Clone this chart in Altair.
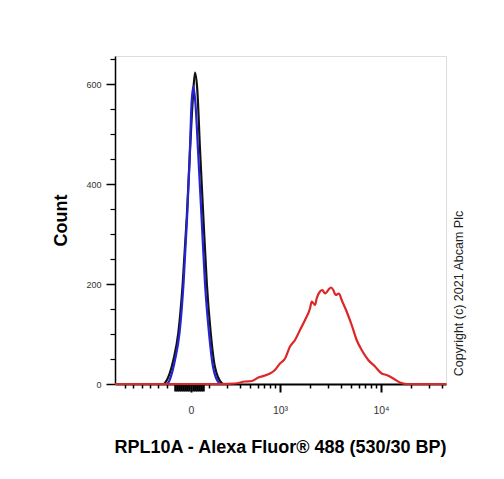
import math
import altair as alt
import pandas as pd

# x positions are display units (decades on a logicle-like axis); y = count
black_x = [1.366, 1.850, 1.861, 1.944, 1.993, 2.037, 2.077, 2.109, 2.136, 2.158, 2.181,
           2.208, 2.241, 2.275, 2.314, 2.356, 2.423, 2.440]
black_y = [0, 0, 2, 48, 102, 202, 334, 468, 568, 623, 588, 468, 334, 202, 102, 34, 2, 0]

blue_x = [1.366, 1.880, 1.891, 1.960, 2.005, 2.045, 2.080, 2.105, 2.124, 2.142, 2.163,
          2.188, 2.223, 2.257, 2.297, 2.337, 2.396, 2.410]
blue_y = [0, 0, 2, 48, 102, 202, 334, 450, 560, 595, 560, 468, 334, 202, 102, 34, 2, 0]

red_x = [1.366, 2.423, 2.554, 2.653, 2.720, 2.785, 2.851, 2.901, 2.950, 3.000, 3.050,
         3.099, 3.149, 3.198, 3.248, 3.297, 3.314, 3.347, 3.363, 3.396, 3.419, 3.446,
         3.478, 3.505, 3.528, 3.551, 3.584, 3.611, 3.660, 3.710, 3.759, 3.809, 3.874,
         3.941, 4.007, 4.056, 4.122, 4.188, 4.254, 4.644]
red_y = [0, 0, 1, 5, 6, 13, 17, 21, 28, 41, 51, 75, 88, 108, 128, 151, 165, 158, 171,
         185, 188, 181, 188, 193, 188, 178, 181, 168, 145, 118, 88, 68, 48, 35, 21, 18,
         11, 3, 0, 0]

x_domain = [1.366, 4.644]
y_domain = [0, 656]

x_major_vals = [2.119, 3.0, 4.0]
x_major_labels = ["0", "10³", "10⁴"]
x_neg_minor = [1.465, 1.548, 1.631, 1.713, 1.795, 1.878]
x_zero_cluster = [1.960, 1.980, 2.000, 2.020, 2.040, 2.060, 2.080, 2.100, 2.140,
                  2.160, 2.180, 2.200, 2.220, 2.238]
x_log_minor = [d + math.log10(k) for d in (2, 3, 4) for k in range(2, 10)
               if d + math.log10(k) < 4.64 and d + math.log10(k) > 2.25]

y_major = [0, 200, 400, 600]
y_minor = [50, 100, 150, 250, 300, 350, 450, 500, 550, 650]

x_title = "RPL10A - Alexa Fluor® 488 (530/30 BP)"
y_title = "Count"
copyright_text = "Copyright (c) 2021 Abcam Plc"

FONT = "Liberation Sans"


def frame(xs, ys):
    return pd.DataFrame({"pos": xs, "count": ys})


xs = alt.Scale(domain=x_domain, nice=False, zero=False)
ys = alt.Scale(domain=y_domain, nice=False, zero=False)

label_expr = " : ".join(
    f"abs(datum.value - {v}) < 0.01 ? '{l}'" for v, l in zip(x_major_vals, x_major_labels)
) + " : ''"

black = alt.Chart(frame(black_x, black_y)).mark_line(
    color="#111111", strokeWidth=2.2, interpolate="monotone"
).encode(
    x=alt.X("pos:Q", scale=xs, axis=alt.Axis(
        orient="bottom", values=x_major_vals, labelExpr=label_expr, grid=False,
        domain=True, domainColor="black", domainWidth=2,
        tickSize=8, tickWidth=2, tickColor="black",
        labelFont=FONT, labelFontSize=10.5, labelColor="#333333", labelPadding=13,
        title=x_title, titleFont=FONT, titleFontSize=18, titleFontWeight="bold",
        titleColor="black", titleX=165, titleY=68, titleBaseline="alphabetic",
        titleAlign="center")),
    y=alt.Y("count:Q", scale=ys, axis=alt.Axis(
        orient="left", values=y_major, grid=False,
        domain=True, domainColor="black", domainWidth=1.5,
        tickSize=9, tickWidth=1.5, tickColor="black",
        labelFont=FONT, labelFontSize=9, labelColor="#333333", labelPadding=5,
        title=y_title, titleFont=FONT, titleFontSize=18, titleFontWeight="bold",
        titleColor="black", titleX=-54, titleY=164, titleAngle=270,
        titleBaseline="middle", titleAlign="center")),
)

blue = alt.Chart(frame(blue_x, blue_y)).mark_line(
    color="#2424d0", strokeWidth=2.2, interpolate="monotone"
).encode(
    x=alt.X("pos:Q", scale=xs, axis=alt.Axis(
        orient="bottom", values=x_neg_minor + x_log_minor, labels=False, grid=False,
        domain=False, tickSize=4, tickWidth=1.5, tickColor="black", title=None)),
    y=alt.Y("count:Q", scale=ys, axis=alt.Axis(
        orient="left", values=y_minor, labels=False, grid=False,
        domain=False, tickSize=5, tickWidth=1.2, tickColor="black", title=None)),
)

red = alt.Chart(frame(red_x, red_y)).mark_line(
    color="#dd2626", strokeWidth=2.2, interpolate="monotone"
).encode(
    x=alt.X("pos:Q", scale=xs, axis=alt.Axis(
        orient="bottom", values=x_zero_cluster, labels=False, grid=False,
        domain=False, tickSize=7, tickWidth=2.5, tickColor="black", title=None)),
    y=alt.Y("count:Q", scale=ys, axis=alt.Axis(
        orient="right", labels=False, ticks=False, grid=False, domain=False,
        title=copyright_text, titleFont=FONT, titleFontSize=12.5,
        titleFontWeight="normal", titleColor="#222222", titleAngle=270,
        titleX=12, titleY=237, titleBaseline="middle", titleAlign="center")),
)

chart = alt.layer(black, blue, red).resolve_axis(
    x="independent", y="independent"
).properties(
    width=331, height=328,
    autosize=alt.AutoSizeParams(type="none"),
    padding={"left": 107, "top": 48, "right": 40, "bottom": 80},
).configure_view(
    stroke="black", strokeWidth=1.2
).configure(background="white")

chart.save("out.html", embed_options={"renderer": "svg", "actions": False})
